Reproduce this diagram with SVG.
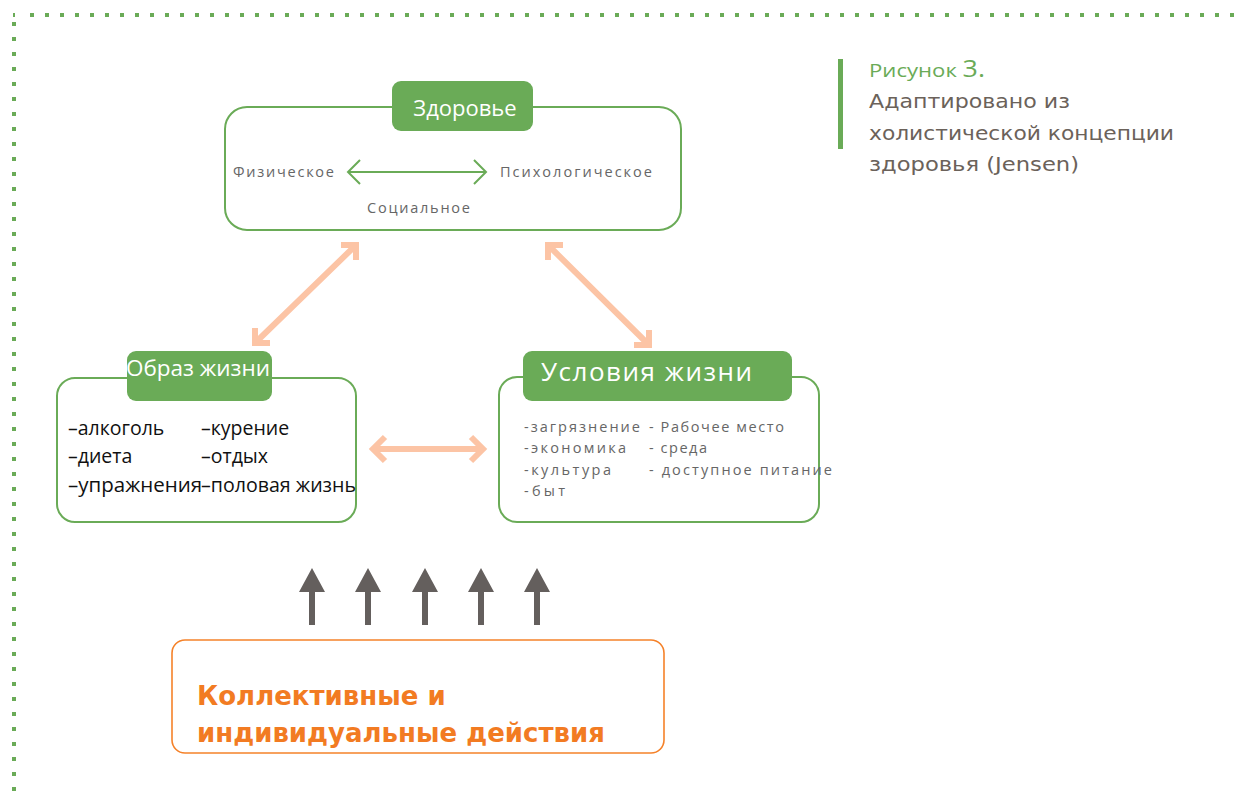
<svg xmlns="http://www.w3.org/2000/svg" width="1248" height="803" viewBox="0 0 1248 803">
  <defs>
    <style>
      .frame { fill: none; stroke: #6aab57; stroke-width: 2; }
      .tab { fill: #6aab57; }
      .tab-text { fill: #ffffff; font-family: "Open Sans", "Noto Sans", sans-serif; }
      .small { fill: #666666; font-family: "Open Sans", "Noto Sans", sans-serif; font-size: 14.5px; }
      .list { fill: #111111; font-family: "Open Sans", "Noto Sans", sans-serif; font-size: 19.5px; }
      .caption { fill: #6b625a; font-family: "DejaVu Sans", Verdana, sans-serif; font-size: 20px; }
      .peach { fill: none; stroke: #fcc4a5; stroke-width: 6; }
      .up { fill: #645f5d; }
      .dots { stroke: #6aab57; stroke-width: 4; }
    </style>
  </defs>

  <!-- dotted page border (top and left) -->
  <g id="border">
    <line class="dots" x1="30" y1="15" x2="1240" y2="15" stroke-dasharray="4 11"/>
    <line class="dots" x1="14" y1="22" x2="14" y2="800" stroke-dasharray="4 11"/>
    <rect x="13" y="13" width="2" height="4" fill="#6aab57"/>
  </g>

  <!-- caption -->
  <g id="caption">
    <rect x="838" y="59" width="5" height="90" fill="#6aab57"/>
    <text x="869" y="77" font-family="'Open Sans', 'Noto Sans', sans-serif" font-size="19" fill="#6aab57" textLength="116" lengthAdjust="spacingAndGlyphs">Рисунок <tspan font-size="23">3.</tspan></text>
    <text class="caption" x="869" y="108" textLength="201" lengthAdjust="spacingAndGlyphs">Адаптировано из</text>
    <text class="caption" x="869" y="140" textLength="305" lengthAdjust="spacingAndGlyphs">холистической концепции</text>
    <text class="caption" x="869" y="171" textLength="210" lengthAdjust="spacingAndGlyphs">здоровья (Jensen)</text>
  </g>

  <!-- Health -->
  <g id="health">
    <rect class="frame" x="225" y="107" width="456" height="123" rx="22"/>
    <rect class="tab" x="392" y="81" width="141" height="50" rx="9"/>
    <text class="tab-text" x="465" y="116" font-size="22" text-anchor="middle">Здоровье</text>
    <text class="small" x="233" y="177" textLength="101" lengthAdjust="spacing">Физическое</text>
    <text class="small" x="500" y="177" textLength="152" lengthAdjust="spacing">Психологическое</text>
    <text class="small" x="367" y="213" textLength="103" lengthAdjust="spacing">Социальное</text>
    <path d="M348 172 H486 M360 160 L348 172 L360 184 M474 160 L486 172 L474 184" fill="none" stroke="#6aab57" stroke-width="2"/>
  </g>

  <!-- Lifestyle -->
  <g id="lifestyle">
    <rect class="frame" x="57" y="378" width="299" height="144" rx="18"/>
    <rect class="tab" x="127" y="351" width="145" height="50" rx="9"/>
    <text class="tab-text" x="126" y="376" font-size="22" textLength="144" lengthAdjust="spacingAndGlyphs">Образ жизни</text>
    <text class="list" x="68" y="435">–алкоголь</text>
    <text class="list" x="68" y="463">–диета</text>
    <text class="list" x="68" y="492" textLength="134" lengthAdjust="spacingAndGlyphs">–упражнения</text>
    <text class="list" x="201" y="435">–курение</text>
    <text class="list" x="201" y="463">–отдых</text>
    <text class="list" x="201" y="492" textLength="155" lengthAdjust="spacingAndGlyphs">–половая жизнь</text>
  </g>

  <!-- Living conditions -->
  <g id="conditions">
    <rect class="frame" x="499" y="377" width="320" height="145" rx="18"/>
    <rect class="tab" x="523" y="351" width="269" height="50" rx="9"/>
    <text class="tab-text" x="541" y="381" font-size="26" textLength="211" lengthAdjust="spacing">Условия жизни</text>
    <text class="small" x="524" y="432" textLength="116" lengthAdjust="spacing">-загрязнение</text>
    <text class="small" x="524" y="453" textLength="102" lengthAdjust="spacing">-экономика</text>
    <text class="small" x="524" y="475" textLength="87" lengthAdjust="spacing">-культура</text>
    <text class="small" x="524" y="496" textLength="41" lengthAdjust="spacing">-быт</text>
    <text class="small" x="649" y="432" textLength="135" lengthAdjust="spacing">- Рабочее место</text>
    <text class="small" x="649" y="453" textLength="58" lengthAdjust="spacing">- среда</text>
    <text class="small" x="649" y="475" textLength="183" lengthAdjust="spacing">- доступное питание</text>
  </g>

  <!-- Actions -->
  <g id="actions">
    <rect x="172" y="640" width="492" height="113" rx="13" fill="none" stroke="#f5822a" stroke-width="1.6"/>
    <text font-family="'DejaVu Sans', Verdana, sans-serif" font-weight="bold" font-size="26" fill="#f27b22">
      <tspan x="197" y="705">Коллективные и</tspan>
      <tspan x="197" y="742">индивидуальные действия</tspan>
    </text>
  </g>

  <!-- connectors -->
  <g id="connectors">
    <path class="peach" d="M356 245 L255 343 M341 245 H356 V260 M255 328 V343 H270"/>
    <path class="peach" d="M548 245 L649 345 M548 260 V245 H563 M649 330 V345 H634"/>
    <path class="peach" d="M372 449 H484 M385 437 L373 449 L385 461 M471 437 L483 449 L471 461"/>
    <g class="up">
      <path d="M312 568 L299 592 H309 V625 H315 V592 H325 Z"/>
      <path d="M368 568 L355 592 H365 V625 H371 V592 H381 Z"/>
      <path d="M425 568 L412 592 H422 V625 H428 V592 H438 Z"/>
      <path d="M481 568 L468 592 H478 V625 H484 V592 H494 Z"/>
      <path d="M537 568 L524 592 H534 V625 H540 V592 H550 Z"/>
    </g>
  </g>
</svg>
